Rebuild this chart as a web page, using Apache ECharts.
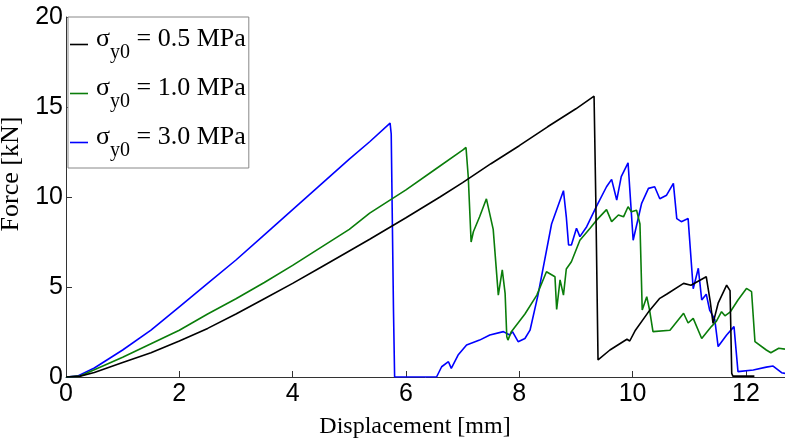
<!DOCTYPE html>
<html><head><meta charset="utf-8">
<script src="https://cdn.jsdelivr.net/npm/echarts@6/dist/echarts.min.js"></script>
<style>html,body{margin:0;padding:0;background:#fff}#c{width:785px;height:445px}</style>
</head><body><div id="c"></div>
<script>
const seriesNames = ['0.5 MPa', '1.0 MPa', '3.0 MPa'];
const xTicks = [0, 2, 4, 6, 8, 10, 12];
const yTicks = [0, 5, 10, 15, 20];

const black = [
  [0,0],[0.25,0.05],[0.5,0.25],[1,0.8],[1.5,1.35],[2,2.0],[2.5,2.7],[3,3.5],[3.5,4.35],[4,5.2],
  [4.5,6.1],[5,7.0],[5.36,7.65],[6,8.85],[6.6,10.0],[7,10.8],[7.5,11.85],[8,12.85],[8.5,13.9],[9,14.9],
  [9.32,15.6],[9.35,10.0],[9.39,0.95],[9.6,1.5],[9.9,2.1],[9.95,2.0],[10.05,2.6],[10.3,3.7],[10.48,4.37],
  [10.6,4.6],[10.9,5.2],[11.03,5.1],[11.3,5.57],[11.37,4.2],[11.42,2.98],[11.51,4.1],[11.66,5.1],
  [11.72,4.8],[11.75,0.2],[11.77,0.05],[12.15,0.05]
];
const green = [
  [0,0],[0.25,0.05],[0.5,0.4],[1,1.1],[1.5,1.85],[2,2.6],[2.5,3.5],[3,4.35],[3.5,5.25],[4,6.2],
  [4.5,7.2],[5,8.2],[5.36,9.1],[6,10.4],[6.5,11.5],[7.0,12.6],[7.06,12.75],[7.1,11.1],[7.15,7.5],
  [7.19,8.07],[7.3,8.9],[7.42,9.9],[7.54,8.2],[7.63,4.55],[7.7,5.95],[7.75,4.65],[7.78,2.24],[7.8,2.05],
  [7.86,2.52],[8.1,3.5],[8.31,4.55],[8.48,5.85],[8.63,5.57],[8.66,3.75],[8.72,5.4],[8.78,4.55],
  [8.83,6.0],[8.92,6.4],[9.07,7.6],[9.25,8.26],[9.36,8.7],[9.54,9.3],[9.63,8.63],[9.75,9.0],[9.84,8.9],
  [9.92,9.46],[9.98,9.18],[10.07,9.27],[10.13,8.5],[10.17,3.72],[10.25,4.46],[10.3,3.72],[10.36,2.52],
  [10.66,2.6],[10.9,3.54],[10.98,3.0],[11.07,3.26],[11.22,2.14],[11.39,2.8],[11.48,3.1],[11.57,3.63],
  [11.63,3.4],[11.72,3.6],[11.86,4.28],[12.01,4.92],[12.1,4.74],[12.16,1.96],[12.36,1.5],[12.44,1.35],
  [12.58,1.6],[12.69,1.55]
];
const blue = [
  [0,0],[0.2,0.05],[0.5,0.5],[1,1.5],[1.5,2.6],[2,3.9],[2.5,5.2],[3,6.5],[3.5,7.9],[4,9.3],
  [4.5,10.7],[5,12.1],[5.36,13.07],[5.72,14.1],[5.74,13.5],[5.78,3.7],[5.8,0.0],[6.54,0.0],
  [6.63,0.57],[6.75,0.85],[6.8,0.48],[6.92,1.22],[7.07,1.78],[7.3,2.05],[7.48,2.33],[7.72,2.52],
  [7.83,2.33],[7.88,2.52],[7.98,1.96],[8.1,2.14],[8.19,2.6],[8.33,4.55],[8.57,8.5],[8.78,10.35],
  [8.83,8.9],[8.87,7.33],[8.92,7.33],[9.01,8.26],[9.07,7.8],[9.19,8.35],[9.36,9.46],[9.54,10.57],
  [9.63,10.98],[9.72,9.83],[9.8,11.13],[9.92,11.9],[10.01,7.6],[10.16,9.65],[10.28,10.48],
  [10.39,10.57],[10.48,9.9],[10.6,10.1],[10.72,10.76],[10.78,8.8],[10.86,8.63],[10.98,8.8],
  [11.07,4.9],[11.16,6.04],[11.22,4.28],[11.3,4.6],[11.36,3.72],[11.45,3.2],[11.51,1.69],
  [11.66,2.33],[11.79,2.8],[11.86,0.3],[12.13,0.39],[12.36,0.55],[12.48,0.61],[12.63,0.24],[12.69,0.2]
];

const colors = ['#000000', '#0a7d0a', '#0000ff'];
const dataSets = [black, green, blue];

const chart = echarts.init(document.getElementById('c'), null, {renderer: 'canvas'});
const serif = '"Liberation Serif", "DejaVu Serif", serif';
const sans = '"Liberation Sans", Arial, sans-serif';

chart.setOption({
  animation: false,
  backgroundColor: '#fff',
  grid: {left: 66, top: 17, right: 0, bottom: 68, containLabel: false, outerBoundsMode: 'none'},
  legend: {
    orient: 'vertical', left: 68, top: 17,
    data: seriesNames,
    backgroundColor: '#fff', borderColor: '#888', borderWidth: 1,
    padding: [9, 3, 7, 2], itemGap: 12,
    itemWidth: 18, itemHeight: 10,
    icon: 'path://M0,4.2 L18,4.2 L18,5.8 L0,5.8 Z',
    formatter: n => '{a|σ}{s|y0}{a| = ' + n + '}',
    textStyle: {
      padding: [0, 0, 0, 3],
      rich: {
        a: {fontFamily: serif, fontSize: 26, color: '#000', height: 24, verticalAlign: 'top'},
        s: {fontFamily: serif, fontSize: 20, color: '#000', height: 18, verticalAlign: 'bottom', padding: [17, 0, 0, 0]}
      }
    }
  },
  xAxis: {
    type: 'value', min: 0, max: 12.69, interval: 2,
    name: 'Displacement [mm]', nameLocation: 'middle', nameGap: 38,
    nameTextStyle: {fontFamily: serif, fontSize: 24, color: '#000', padding: [0, 21, 0, 0]},
    axisLine: {lineStyle: {color: '#333', width: 1}},
    axisTick: {inside: true, length: 6, lineStyle: {color: '#333'}},
    axisLabel: {fontFamily: sans, fontSize: 25, color: '#000', margin: 5, showMaxLabel: false,
      formatter: v => xTicks.includes(v) ? String(v) : ''},
    splitLine: {show: false}
  },
  yAxis: {
    type: 'value', min: 0, max: 20, interval: 5,
    name: 'Force [kN]', nameLocation: 'middle', nameGap: 34,
    nameTextStyle: {fontFamily: serif, fontSize: 26, color: '#000', padding: [0, 0, 0, 46]},
    axisLine: {show: true, lineStyle: {color: '#333', width: 1}},
    axisTick: {show: true, inside: true, length: 6, lineStyle: {color: '#333'}},
    axisLabel: {fontFamily: sans, fontSize: 25, color: '#000', margin: 3,
      formatter: v => yTicks.includes(v) ? String(v) : ''},
    splitLine: {show: false}
  },
  series: dataSets.map((d, i) => ({
    name: seriesNames[i], type: 'line', data: d, showSymbol: false, symbol: 'none',
    lineStyle: {color: colors[i], width: 1.6}, itemStyle: {color: colors[i]},
    clip: true, z: 2 + (2 - i)
  }))
});
</script></body></html>
